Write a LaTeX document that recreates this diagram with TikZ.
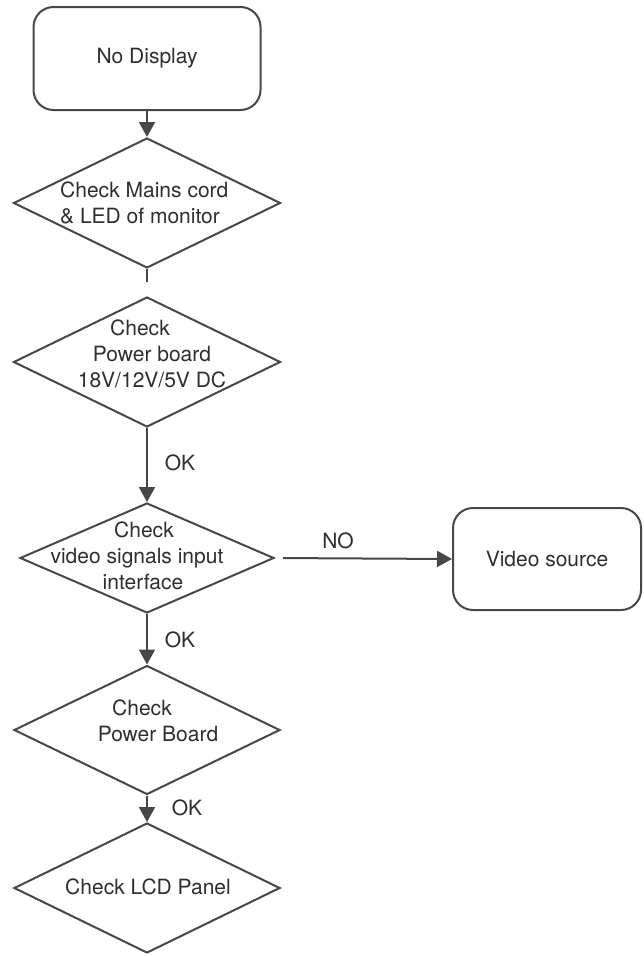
\documentclass[tikz,border=0pt]{standalone}
\usepackage{fontspec}
\setmainfont{TeX Gyre Heros}
\usetikzlibrary{arrows.meta,shapes.geometric}
\definecolor{linecolor}{HTML}{474747}
\definecolor{labelcolor}{HTML}{2E2E2E}
\tikzset{
  flow text/.style={text=labelcolor,font=\fontsize{21}{26}\selectfont,align=center,inner sep=0pt},
  flow box/.style={flow text,draw=linecolor,line width=2pt,rounded corners=20pt},
  flow decision/.style={draw=linecolor,line width=2pt,shape=diamond,inner sep=0pt},
  flow line/.style={draw=linecolor,line width=2pt},
  flow arrow/.style={flow line,-{Triangle[length=15pt,width=16pt]}}
}
\begin{document}
\begin{tikzpicture}[x=1pt,y=-1pt]
  \useasboundingbox (0,0) rectangle (643,956);
  % boxes
  \node[flow box,minimum width=227pt,minimum height=103pt] (start) at (147,58.5) {No Display};
  \node[flow box,minimum width=188pt,minimum height=102pt] (source) at (547,559) {Video source};
  % decisions, drawn empty, text set on top
  \node[flow decision,minimum width=267pt,minimum height=130pt] (mains) at (147,203) {};
  \node[flow decision,minimum width=267pt,minimum height=130pt] (power) at (147,362) {};
  \node[flow decision,minimum width=254pt,minimum height=110pt] (video) at (147,558) {};
  \node[flow decision,minimum width=266pt,minimum height=129pt] (board) at (147,730) {};
  \node[flow decision,minimum width=266pt,minimum height=130pt] (panel) at (147,888) {};
  \node[flow text,align=left,anchor=west] (mains-t) at (60,203) {Check Mains cord\\\& LED of monitor};
  \node[flow text] (power-t) at (152,354) {Check\hspace*{24pt}\\Power board\\18V/12V/5V DC};
  \node[flow text] (video-t) at (137,556) {\hspace*{14pt}Check\\video signals input\\\hspace*{12pt}interface};
  \node[flow text] (board-t) at (158,721) {Check\hspace*{32pt}\\Power Board};
  \node[flow text] (panel-t) at (148,887) {Check LCD Panel};
  % connectors
  \coordinate (cut) at (147,282);
  \draw[flow arrow] (start) -- (mains.north);
  \draw[flow line] (mains.south) -- (cut);
  \draw[flow arrow] (power.south) -- (video.north);
  \draw[flow arrow] (video.south) -- (board.north);
  \draw[flow arrow] (board.south) -- (panel.north);
  \draw[flow arrow,shorten <=8pt] (video.east) -- (source.west);
  % labels
  \node[flow text] (ok1) at (180,463) {OK};
  \node[flow text] (ok2) at (180,640) {OK};
  \node[flow text] (ok3) at (187,808) {OK};
  \node[flow text] (no) at (338,541) {NO};
\end{tikzpicture}
\end{document}
